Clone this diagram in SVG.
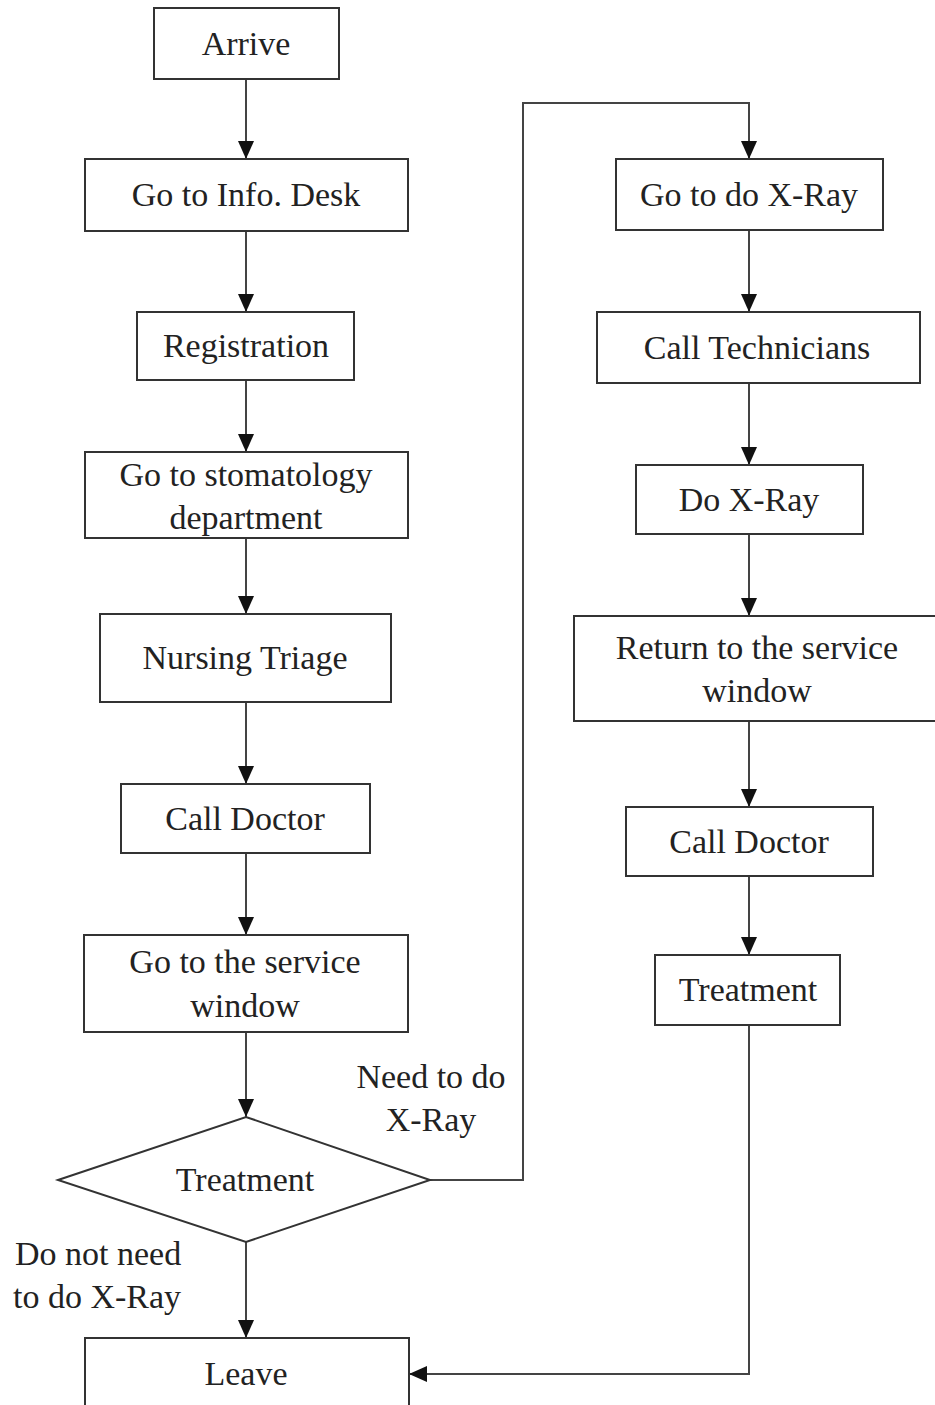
<svg xmlns="http://www.w3.org/2000/svg" width="935" height="1405" viewBox="0 0 935 1405">
<style>
.box{fill:#fff;stroke:#333;stroke-width:2}
.t{font-family:"Liberation Serif","Times New Roman",serif;font-size:34px;fill:#222;text-anchor:middle}
.tl{font-family:"Liberation Serif","Times New Roman",serif;font-size:34px;fill:#222}
.c{fill:none;stroke:#444;stroke-width:2;marker-end:url(#ah)}
</style>
<defs>
<marker id="ah" markerWidth="18" markerHeight="16" refX="18" refY="8" orient="auto" markerUnits="userSpaceOnUse" viewBox="0 0 18 16">
<path d="M0,0 L18,8 L0,16 Z" fill="#111"/>
</marker>
</defs>
<rect width="935" height="1405" fill="#fff"/>
<g id="connectors">
<path class="c" d="M246,79 V159"/>
<path class="c" d="M246,231 V312"/>
<path class="c" d="M246,380 V452"/>
<path class="c" d="M246,538 V614"/>
<path class="c" d="M246,702 V784"/>
<path class="c" d="M246,853 V935"/>
<path class="c" d="M246,1032 V1117"/>
<path class="c" d="M246,1242 V1338"/>
<path class="c" d="M430,1180 H523 V103 H749 V159"/>
<path class="c" d="M749,230 V312"/>
<path class="c" d="M749,383 V465"/>
<path class="c" d="M749,534 V616"/>
<path class="c" d="M749,721 V807"/>
<path class="c" d="M749,876 V955"/>
<path class="c" d="M749,1025 V1374 H409"/>
</g>
<g id="n-arrive"><rect class="box" x="154" y="8" width="185" height="71"/><text class="t" x="246" y="55">Arrive</text></g>
<g id="n-info"><rect class="box" x="85" y="159" width="323" height="72"/><text class="t" x="246" y="206">Go to Info. Desk</text></g>
<g id="n-reg"><rect class="box" x="137" y="312" width="217" height="68"/><text class="t" x="246" y="357">Registration</text></g>
<g id="n-stoma"><rect class="box" x="85" y="452" width="323" height="86"/><text class="t" x="246" y="486">Go to stomatology</text><text class="t" x="246" y="529">department</text></g>
<g id="n-triage"><rect class="box" x="100" y="614" width="291" height="88"/><text class="t" x="245" y="669">Nursing Triage</text></g>
<g id="n-calldoc1"><rect class="box" x="121" y="784" width="249" height="69"/><text class="t" x="245" y="830">Call Doctor</text></g>
<g id="n-service"><rect class="box" x="84" y="935" width="324" height="97"/><text class="t" x="245" y="973">Go to the service</text><text class="t" x="245" y="1017">window</text></g>
<g id="n-decision"><polygon class="box" points="58,1180 246,1117 430,1180 246,1242"/><text class="t" x="245" y="1191">Treatment</text></g>
<g id="n-leave"><rect class="box" x="85" y="1338" width="324" height="80"/><text class="t" x="246" y="1385">Leave</text></g>
<g id="n-xray"><rect class="box" x="616" y="159" width="267" height="71"/><text class="t" x="749" y="206">Go to do X-Ray</text></g>
<g id="n-tech"><rect class="box" x="597" y="312" width="323" height="71"/><text class="t" x="757" y="359">Call Technicians</text></g>
<g id="n-doxray"><rect class="box" x="636" y="465" width="227" height="69"/><text class="t" x="749" y="511">Do X-Ray</text></g>
<g id="n-return"><rect class="box" x="574" y="616" width="370" height="105"/><text class="t" x="757" y="659">Return to the service</text><text class="t" x="757" y="702">window</text></g>
<g id="n-calldoc2"><rect class="box" x="626" y="807" width="247" height="69"/><text class="t" x="749" y="853">Call Doctor</text></g>
<g id="n-treat2"><rect class="box" x="655" y="955" width="185" height="70"/><text class="t" x="748" y="1001">Treatment</text></g>
<g id="labels">
<text class="t" x="431" y="1088">Need to do</text>
<text class="t" x="431" y="1131">X-Ray</text>
<text class="tl" x="15" y="1265">Do not need</text>
<text class="tl" x="13" y="1308">to do X-Ray</text>
</g>
</svg>
